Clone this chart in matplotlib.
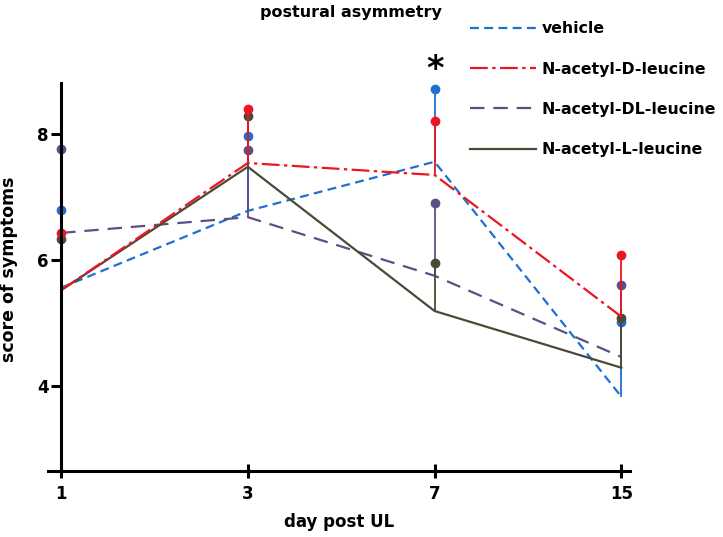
import numpy as np
import matplotlib
matplotlib.use("Agg")
import matplotlib.pyplot as plt

## Data
days = ['1', '3', '7', '15']

vehicle_mean = [5.56, 6.78, 7.56, 3.83]
vehicle_top = [6.79, 7.97, 8.71, 5.02]

d_mean = [5.52, 7.54, 7.35, 5.10]
d_top = [6.43, 8.40, 8.21, 6.08]

dl_mean = [6.43, 6.68, 5.75, 4.46]
dl_top = [7.77, 7.75, 6.90, 5.60]

l_mean = [5.52, 7.48, 5.19, 4.29]
l_top = [6.33, 8.29, 5.95, 5.08]

labels = ['vehicle', 'N-acetyl-D-leucine', 'N-acetyl-DL-leucine', 'N-acetyl-L-leucine']

plt.rcParams['font.family'] = ['DejaVu Sans']
plt.rcParams['font.weight'] = 'bold'

fig = plt.figure(figsize=(7.23, 5.37), dpi=100)
ax = fig.add_axes([0.0664, 0.1229, 0.8046, 0.7225])

x = np.arange(len(days))

# series: (mean, top, color, dashes, label) -- draw order matters for dot overlap
series = [
    (vehicle_mean, vehicle_top, '#1f6fd0', (4, 2.4), labels[0]),
    (dl_mean, dl_top, '#5a5088', (6.5, 4), labels[2]),
    (l_mean, l_top, '#4a4a36', None, labels[3]),
    (d_mean, d_top, '#ec1520', (8, 2, 1.5, 2), labels[1]),
]

handles = {}
for mean, top, col, dash, lab in series:
    ln, = ax.plot(x, mean, color=col, lw=1.6, label=lab)
    if dash is not None:
        ln.set_dashes(dash)
    ax.vlines(x, mean, top, color=col, lw=1.3)
    ax.plot(x, top, 'o', color=col, ms=6, clip_on=False)
    handles[lab] = ln

ax.set_xlim(-0.07, 3.045)
ax.set_ylim(2.65, 8.81)
ax.set_xticks(x)
ax.set_xticklabels(days)
ax.set_yticks([4, 6, 8])
ax.set_yticklabels(['4', '6', '8'], rotation=90, va='center')

ax.spines['top'].set_visible(False)
ax.spines['right'].set_visible(False)
ax.spines['left'].set_position(('data', 0))
ax.spines['left'].set_linewidth(2.2)
ax.spines['bottom'].set_linewidth(2.2)
ax.tick_params(axis='both', width=2.2, length=7, labelsize=12)
ax.tick_params(axis='x', direction='inout', length=10, pad=5)
ax.tick_params(axis='y', pad=2)

ax.set_xlabel('day post UL', fontsize=12, fontweight='bold', labelpad=7)
ax.set_ylabel('score of symptoms', fontsize=12.5, fontweight='bold')
ax.yaxis.set_label_coords(-0.052, 0.52)

fig.text(0.485, 0.977, 'postural asymmetry', ha='center', va='center',
         fontsize=11.5, fontweight='bold')

# significance marker
ax.text(2, 9.02, '*', ha='center', va='center', fontsize=24, fontweight='bold',
        clip_on=False)

fig.legend([handles[l] for l in labels], labels, loc='upper left',
           bbox_to_anchor=(0.631, 0.987), frameon=False, handlelength=4.2,
           labelspacing=1.62, handletextpad=0.35,
           prop={'weight': 'bold', 'size': 11.3})

fig.savefig('out.png', dpi=100)
